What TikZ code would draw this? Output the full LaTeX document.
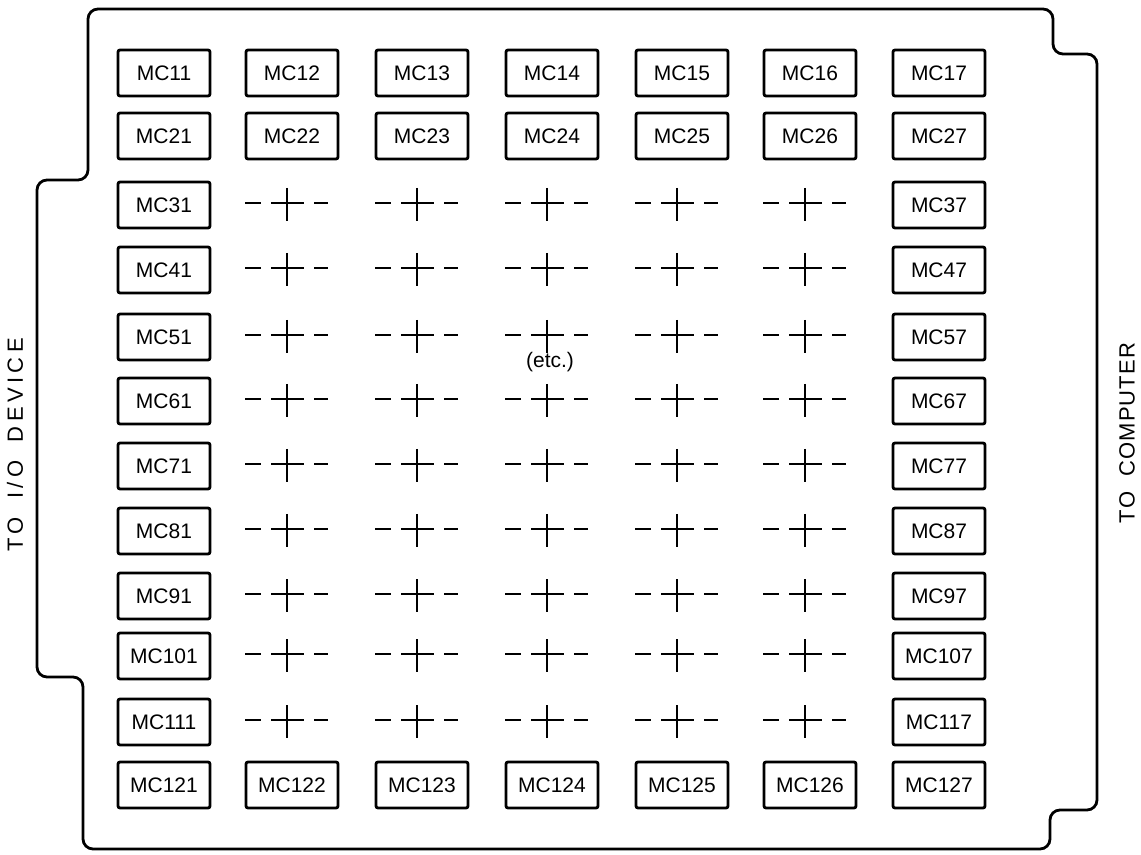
\documentclass[tikz,border=0pt]{standalone}
\usepackage{fontspec}
\setsansfont{Liberation Sans}
\usetikzlibrary{positioning}
\tikzset{
  every picture/.style={font=\sffamily, line width=1.4pt, x=0.5pt, y=-0.5pt},
  chip/.style={draw, rounded corners=1pt, minimum width=46pt, minimum height=23pt, inner sep=0pt, font=\sffamily\fontsize{10.5}{12}\selectfont},
  board/.style={draw, line width=1.4pt, rounded corners=5pt},
  side/.style={rotate=90, inner sep=0pt, font=\sffamily\fontsize{11}{12}\selectfont\addfontfeatures{LetterSpace=#1}},
  side/.default=20,
  cross/.style={line width=1.3pt},
  note/.style={font=\sffamily\fontsize{10.5}{12}\selectfont},
}

\begin{document}
\begin{tikzpicture}
  \useasboundingbox (0,0) rectangle (1141,855);
  % board outline with the two edge tabs
  \draw[board] (88,9) -- (1053,9) -- (1053,54) -- (1097,54) -- (1097,810) -- (1050,810) -- (1050,849)
    -- (83,849) -- (83,677) -- (37,677) -- (37,180) -- (88,180) -- cycle;
  % top two rows and bottom row
  \foreach \c/\x in {1/164,2/292,3/422,4/552,5/682,6/810,7/939} {
    \node[chip] (mc-1-\c) at (\x,73) {MC1\c};
    \node[chip] (mc-2-\c) at (\x,136) {MC2\c};
    \node[chip] (mc-12-\c) at (\x,785) {MC12\c};
  }
  % side columns and the inner crosses
  \foreach \r/\y in {3/205,4/270,5/337,6/401,7/466,8/531,9/596,10/656,11/722} {
    \node[chip] (mc-\r-1) at (164,\y) {MC\r1};
    \node[chip] (mc-\r-7) at (939,\y) {MC\r7};
    \foreach \x in {287,417,547,677,805} {
      \draw[cross] (\x-42,\y-2) -- (\x-26,\y-2) (\x-16,\y-2) -- (\x+17,\y-2) (\x+27,\y-2) -- (\x+41,\y-2)
        (\x,\y-17) -- (\x,\y+16);
    }
  }
  \node[note] (etc) at (550,362) {(etc.)};
  \node[side] (iodev) at (15,445) {TO\hspace{4pt} I/O\hspace{4pt} DEVICE};
  \node[side=5] (comp) at (1127,433) {TO\hspace{4pt} COMPUTER};
\end{tikzpicture}
\end{document}
